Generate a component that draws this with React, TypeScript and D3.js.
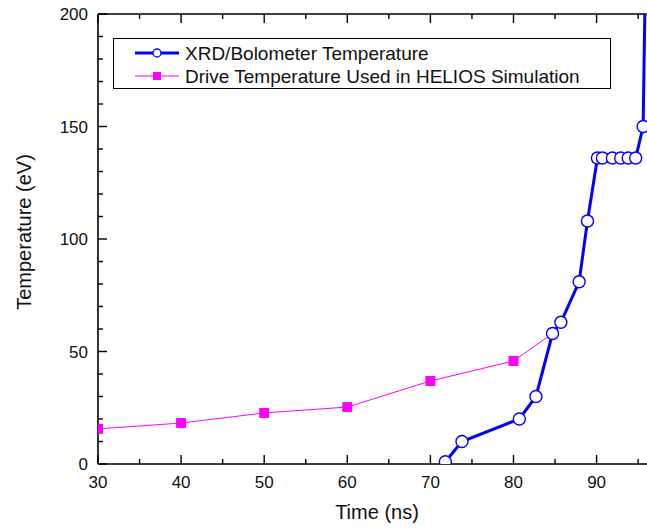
import React from "react";
import * as d3 from "d3";

// XRD / bolometer measured temperature
const xrdTime = [71.8, 73.8, 80.7, 82.7, 84.7, 85.7, 87.9, 88.9, 90.1, 90.7, 91.9, 92.9, 93.8, 94.7, 95.6, 96.2];
const xrdTemp = [1, 10, 20, 30, 58, 63, 81, 108, 136, 136, 136, 136, 136, 136, 150, 300];

// drive temperature used in the HELIOS simulation
const driveTime = [30, 40, 50, 60, 70, 80, 84.7, 85.7, 87.9, 88.9, 90.1, 90.7, 91.9, 92.9, 93.8, 94.7, 95.6];
const driveTemp = [15.6, 18.2, 22.7, 25.3, 36.9, 45.8, 58, 63, 81, 108, 136, 136, 136, 136, 136, 136, 150];

const xTicks = [30, 40, 50, 60, 70, 80, 90];
const yTicks = [0, 50, 100, 150, 200];
const legendLabels = ["XRD/Bolometer Temperature", "Drive Temperature Used in HELIOS Simulation"];

const W = 647;
const H = 529;
const margin = { top: 14, left: 98, bottom: 65 };
const plotBottom = H - margin.bottom;

export default function App() {
  const x = d3.scaleLinear().domain([30, 100]).range([margin.left, margin.left + 70 * 8.31]);
  const y = d3.scaleLinear().domain([0, 200]).range([plotBottom, margin.top]);

  const line = d3
    .line<[number, number]>()
    .x((d) => x(d[0]))
    .y((d) => y(d[1]));

  const xrd = xrdTime.map((t, i) => [t, xrdTemp[i]] as [number, number]);
  const drive = driveTime.map((t, i) => [t, driveTemp[i]] as [number, number]);

  const minorX = d3.range(30, 101, 5);
  const minorY = d3.range(0, 201, 10);
  const font = "Arial, 'Liberation Sans', sans-serif";

  const x0 = x(30);
  const xEnd = W + 5;

  return (
    <div style={{ position: "absolute", left: 0, top: 0 }}>
      <svg width={W} height={H} style={{ display: "block", background: "#fff" }} fontFamily={font}>
        <defs>
          <clipPath id="plot">
            <rect x={x0} y={margin.top} width={xEnd - x0} height={plotBottom - margin.top} />
          </clipPath>
        </defs>

        {/* axes */}
        <line x1={x0} x2={xEnd} y1={plotBottom} y2={plotBottom} stroke="#000" strokeWidth={1.6} />
        <line x1={x0} x2={xEnd} y1={margin.top} y2={margin.top} stroke="#000" strokeWidth={1.6} />
        <line x1={x0} x2={x0} y1={margin.top} y2={plotBottom} stroke="#000" strokeWidth={1.6} />

        {minorX.map((v) => {
          const major = v % 10 === 0;
          const len = major ? 9 : 5;
          return (
            <g key={"xt" + v}>
              <line x1={x(v)} x2={x(v)} y1={plotBottom} y2={plotBottom - len} stroke="#000" strokeWidth={1.4} />
              <line x1={x(v)} x2={x(v)} y1={margin.top} y2={margin.top + len} stroke="#000" strokeWidth={1.4} />
            </g>
          );
        })}
        {minorY.map((v) => {
          const major = v % 50 === 0;
          const len = major ? 9 : 5;
          return <line key={"yt" + v} x1={x0} x2={x0 + len} y1={y(v)} y2={y(v)} stroke="#000" strokeWidth={1.4} />;
        })}

        {xTicks.map((v) => (
          <text key={"xl" + v} x={x(v)} y={plotBottom + 24} fontSize={17} textAnchor="middle" fill="#111">
            {v}
          </text>
        ))}
        {yTicks.map((v) => (
          <text key={"yl" + v} x={x0 - 10} y={y(v) + 6} fontSize={17} textAnchor="end" fill="#111">
            {v}
          </text>
        ))}

        <text x={377} y={519} fontSize={20} textAnchor="middle" fill="#111">
          Time (ns)
        </text>
        <text transform="translate(31,232) rotate(-90)" fontSize={20} textAnchor="middle" fill="#111">
          Temperature (eV)
        </text>

        {/* series */}
        <g clipPath="url(#plot)">
          <path d={line(drive) || ""} fill="none" stroke="#ff00ff" strokeWidth={1} />
          {drive.map((d, i) => (
            <rect key={"dm" + i} x={x(d[0]) - 5} y={y(d[1]) - 5} width={10} height={10} fill="#ff00ff" />
          ))}
          <path d={line(xrd) || ""} fill="none" stroke="#0000ff" strokeWidth={3} />
          {xrd.map((d, i) => (
            <circle key={"xm" + i} cx={x(d[0])} cy={y(d[1])} r={6} fill="#fff" stroke="#0000ff" strokeWidth={1.4} />
          ))}
        </g>

        {/* legend */}
        <rect x={113.5} y={38.5} width={497} height={50} fill="#fff" stroke="#000" strokeWidth={1} />
        <line x1={135} x2={179} y1={53} y2={53} stroke="#0000ff" strokeWidth={3} />
        <circle cx={157} cy={53} r={4} fill="#fff" stroke="#0000ff" strokeWidth={1.3} />
        <text x={185} y={60} fontSize={19} fill="#111">
          {legendLabels[0]}
        </text>
        <line x1={135} x2={179} y1={76} y2={76} stroke="#ff00ff" strokeWidth={1} />
        <rect x={153} y={72} width={8} height={8} fill="#ff00ff" />
        <text x={185} y={83} fontSize={19} fill="#111">
          {legendLabels[1]}
        </text>
      </svg>
    </div>
  );
}
